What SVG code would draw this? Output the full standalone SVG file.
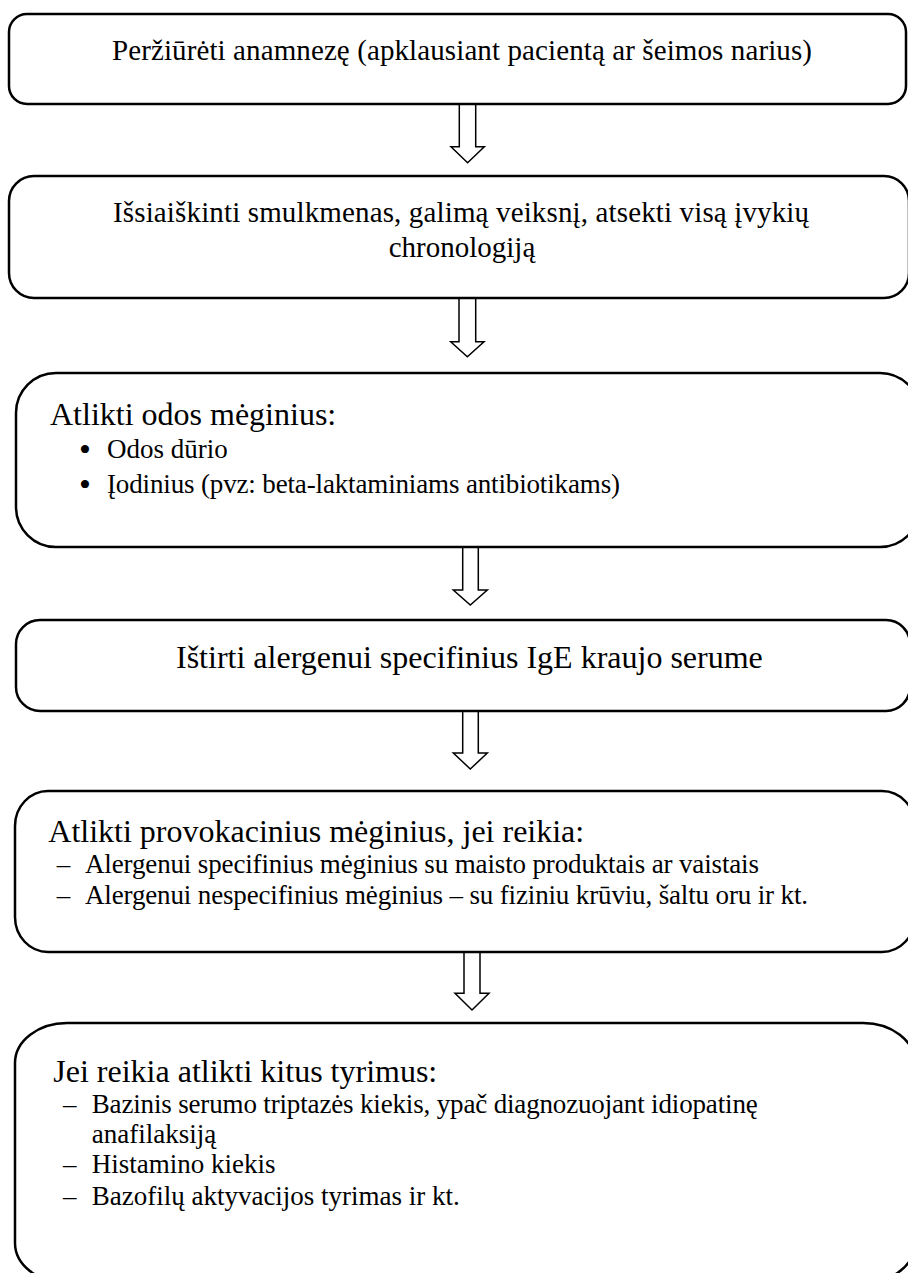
<svg xmlns="http://www.w3.org/2000/svg" width="908" height="1273" viewBox="0 0 908 1273">
<style>
.box{fill:#fff;stroke:#000;stroke-width:2.5}
.arr{fill:#fff;stroke:#000;stroke-width:1.5;stroke-linejoin:miter}
text{font-family:"Liberation Serif","Times New Roman",serif;fill:#000}
.t1{font-size:29px}
.t2{font-size:32px}
.t3{font-size:27px}
.bul{font-size:34px;text-anchor:middle}
.mid{text-anchor:middle}
</style>
<rect width="908" height="1273" fill="#fff"/>
<g id="connectors">
<path class="arr" d="M459.3,104 V146.7 H451 L467.6,162.7 L484.3,146.7 H475.7 V104"/>
<path class="arr" d="M459,298 V341.7 H450.7 L467.35,356.7 L484,341.7 H475.7 V298"/>
<path class="arr" d="M462.7,547 V590 H453.3 L470.3,605 L487.3,590 H478.3 V547"/>
<path class="arr" d="M462.7,711 V753 H453.3 L470.3,769 L487.3,753 H478.3 V711"/>
<path class="arr" d="M464,952 V993.3 H455 L472,1010 L489,993.3 H480 V952"/>
</g>
<g id="node1">
<rect class="box" x="9" y="14" width="897" height="90" rx="18" ry="18"/>
<text class="t1" x="112" y="60" textLength="700" lengthAdjust="spacing">Peržiūrėti anamnezę (apklausiant pacientą ar šeimos narius)</text>
</g>
<g id="node2">
<rect class="box" x="9" y="176" width="900" height="122" rx="25" ry="25"/>
<text class="t1" x="113" y="222" textLength="696" lengthAdjust="spacing">Išsiaiškinti smulkmenas, galimą veiksnį, atsekti visą įvykių</text>
<text class="t1 mid" x="462" y="257">chronologiją</text>
</g>
<g id="node3">
<rect class="box" x="16" y="373" width="904" height="174" rx="40" ry="40"/>
<text class="t2" x="50" y="425">Atlikti odos mėginius:</text>
<text class="bul" x="85" y="461">•</text>
<text class="t3" x="107" y="458">Odos dūrio</text>
<text class="bul" x="85" y="495.7">•</text>
<text class="t3" x="107" y="492.7" textLength="513" lengthAdjust="spacing">Įodinius (pvz: beta-laktaminiams antibiotikams)</text>
</g>
<g id="node4">
<rect class="box" x="16" y="620" width="894" height="91" rx="24" ry="24"/>
<text class="t2" x="176" y="668">Ištirti alergenui specifinius IgE kraujo serume</text>
</g>
<g id="node5">
<rect class="box" x="15" y="791" width="900" height="161" rx="33" ry="35"/>
<text class="t2" x="48.3" y="841.7">Atlikti provokacinius mėginius, jei reikia:</text>
<text class="t3" x="56.7" y="873.3">–</text>
<text class="t3" x="85" y="873.3" textLength="674" lengthAdjust="spacing">Alergenui specifinius mėginius su maisto produktais ar vaistais</text>
<text class="t3" x="56.7" y="904">–</text>
<text class="t3" x="85" y="904" textLength="723" lengthAdjust="spacing">Alergenui nespecifinius mėginius – su fiziniu krūviu, šaltu oru ir kt.</text>
</g>
<g id="node6">
<rect class="box" x="15" y="1023" width="900" height="260" rx="52" ry="40"/>
<text class="t2" x="53.3" y="1081.7">Jei reikia atlikti kitus tyrimus:</text>
<text class="t3" x="63" y="1113.3">–</text>
<text class="t3" x="91.7" y="1113.3" textLength="666" lengthAdjust="spacing">Bazinis serumo triptazės kiekis, ypač diagnozuojant idiopatinę</text>
<text class="t3" x="91.7" y="1143.3">anafilaksiją</text>
<text class="t3" x="63" y="1173.3">–</text>
<text class="t3" x="91.7" y="1173.3">Histamino kiekis</text>
<text class="t3" x="63" y="1205">–</text>
<text class="t3" x="91.7" y="1205">Bazofilų aktyvacijos tyrimas ir kt.</text>
</g>
</svg>
